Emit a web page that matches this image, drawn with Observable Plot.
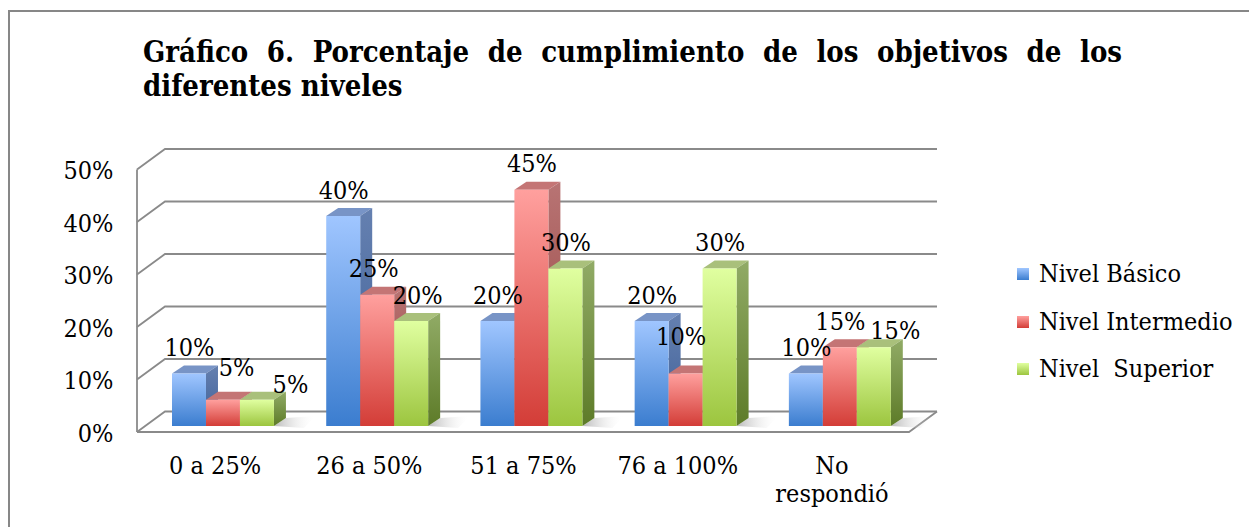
<!DOCTYPE html>
<html>
<head>
<meta charset="utf-8">
<script src="https://cdn.jsdelivr.net/npm/d3@7"></script>
<script src="https://cdn.jsdelivr.net/npm/@observablehq/plot@0.6"></script>
<style>
  html, body { margin: 0; padding: 0; background: #fff; }
  #page { position: relative; width: 1249px; height: 527px; overflow: hidden; background: #fff;
          font-family: "DejaVu Serif Condensed", "DejaVu Serif", serif; font-stretch: condensed; color: #000; }
  #frame { position: absolute; left: 8px; top: 10px; width: 1300px; height: 600px; border: 2px solid #878787; box-sizing: border-box; }
  #title { position: absolute; left: 143px; top: 35px; width: 979px; font-size: 29px; line-height: 34px; font-weight: bold;
           text-align: justify; text-align-last: left; }
  #chart { position: absolute; left: 0; top: 130px; }
  #legend { position: absolute; left: 1017px; top: 258px; font-size: 25px; }
  .item { position: relative; height: 47.5px; white-space: pre; }
  .sw { position: absolute; left: 0; top: 10px; width: 12px; height: 12px; }
  .lt { position: absolute; left: 22px; top: 0; line-height: 32px; }
</style>
</head>
<body>
<div id="page">
  <div id="frame"></div>
  <div id="title">Gráfico 6. Porcentaje de cumplimiento de los objetivos de los diferentes niveles</div>
  <div id="chart"></div>
  <div id="legend"></div>
</div>
<script>
// ---- data ----
const categories = ["0 a 25%", "26 a 50%", "51 a 75%", "76 a 100%", "No\nrespondió"];
const seriesNames = ["Nivel Básico", "Nivel Intermedio", "Nivel  Superior"];
const basico     = [0.10, 0.40, 0.20, 0.20, 0.10];
const intermedio = [0.05, 0.25, 0.45, 0.10, 0.15];
const superior   = [0.05, 0.20, 0.30, 0.30, 0.15];
const yTicks = [0, 0.1, 0.2, 0.3, 0.4, 0.5];
const yTickLabels = ["0%", "10%", "20%", "30%", "40%", "50%"];

// ---- styles ----
const palette = [
  {front: ["#a0c6ff", "#3b7dcf"], side: ["#6580b0", "#3d5f97"], top: "#7894c6"},
  {front: ["#ffa09e", "#d33d37"], side: ["#b87474", "#94403b"], top: "#c47575"},
  {front: ["#e0ffa0", "#9cc53f"], side: ["#91ab66", "#5d7b28"], top: "#a9c07b"}
];
const seriesValues = [basico, intermedio, superior];
const W = 1000, H = 397;
const ML = 145.4, MR = W - 917.4, MT = 33.5, MB = H - 296;
const PAD_IN = 0.339, PAD_OUT = 0.1725;
const step = (W - ML - MR) / (categories.length - PAD_IN + 2 * PAD_OUT);
const bw = step * (1 - PAD_IN);
const barW = bw / 3;
const FRONT = {dx: -8.4, dy: 6}, BACK = {dx: 19.6, dy: -14.5}, DEPTH = {dx: 12, dy: -8};
const FS = 25;
// label collision nudges (series index -> category index -> [dx, dy]), style only
const labelNudge = {
  1: {0: [13, -6], 1: [-4, 0], 3: [-5, -11]},
  2: {0: [33, 11], 1: [6, 0], 4: [21, 9]}
};
const fontFamily = '"DejaVu Serif Condensed", "DejaVu Serif", serif';

const data = [];
seriesValues.forEach((vals, s) => vals.forEach((v, i) => data.push({cat: categories[i], series: seriesNames[s], s, i, value: v})));
const nudge = (d, k) => ((labelNudge[d.s] || {})[d.i] || [0, 0])[k];

// gradients definition mark
function defsMark() {
  const g = d3.create("svg:g");
  const defs = g.append("defs");
  palette.forEach((p, i) => {
    const f = defs.append("linearGradient").attr("id", "front" + i).attr("x1", 0).attr("y1", 0).attr("x2", 0).attr("y2", 1);
    f.append("stop").attr("offset", "0%").attr("stop-color", p.front[0]);
    f.append("stop").attr("offset", "100%").attr("stop-color", p.front[1]);
    const sd = defs.append("linearGradient").attr("id", "side" + i).attr("x1", 0).attr("y1", 0).attr("x2", 0).attr("y2", 1);
    sd.append("stop").attr("offset", "0%").attr("stop-color", p.side[0]);
    sd.append("stop").attr("offset", "100%").attr("stop-color", p.side[1]);
  });
  const sh = defs.append("linearGradient").attr("id", "shadow").attr("x1", 0).attr("y1", 0).attr("x2", 1).attr("y2", 0);
  sh.append("stop").attr("offset", "0%").attr("stop-color", "#9a9a9a").attr("stop-opacity", 0.7);
  sh.append("stop").attr("offset", "100%").attr("stop-color", "#ffffff").attr("stop-opacity", 0);
  return g.node();
}

// walls, gridlines and floor drawn from the scales
function wallsMark(index, scales) {
  const {x, y} = scales;
  const [x0, x1] = x.range();
  const g = d3.create("svg:g").attr("fill", "none").attr("stroke", "#8a8a8a").attr("stroke-width", 1.8);
  const y0 = y(0), yTop = y(yTicks[yTicks.length - 1]);
  g.append("line").attr("x1", x0 + FRONT.dx).attr("x2", x0 + FRONT.dx).attr("y1", y0 + FRONT.dy).attr("y2", yTop + FRONT.dy);
  for (const t of yTicks) {
    g.append("polyline").attr("points", [
      [x0 + FRONT.dx, y(t) + FRONT.dy],
      [x0 + BACK.dx, y(t) + BACK.dy],
      [x1 + BACK.dx, y(t) + BACK.dy]
    ].map(p => p.join(",")).join(" "));
  }
  g.append("polyline").attr("points", [
    [x0 + FRONT.dx, y0 + FRONT.dy],
    [x1 + FRONT.dx, y0 + FRONT.dy],
    [x1 + BACK.dx, y0 + BACK.dy]
  ].map(p => p.join(",")).join(" "));
  const sg = d3.create("svg:g");
  for (const c of categories) {
    const r = x(c) + bw;
    sg.append("polygon").attr("fill", "url(#shadow)").attr("points", [
      [r, y0], [r + DEPTH.dx, y0 + DEPTH.dy], [r + DEPTH.dx + 30, y0 + DEPTH.dy - 2], [r + 30, y0 + 2]
    ].map(p => p.join(",")).join(" "));
  }
  const wrap = d3.create("svg:g");
  wrap.append(() => g.node());
  wrap.append(() => sg.node());
  return wrap.node();
}

// top and side faces of one series
function facesMark(s) {
  return (index, scales) => {
    const {x, y} = scales;
    const g = d3.create("svg:g");
    seriesValues[s].forEach((v, i) => {
      const left = x(categories[i]) + s * barW;
      const right = left + barW;
      const top = y(v), base = y(0);
      g.append("polygon").attr("fill", palette[s].top).attr("points", [
        [left, top], [right, top], [right + DEPTH.dx, top + DEPTH.dy], [left + DEPTH.dx, top + DEPTH.dy]
      ].map(p => p.join(",")).join(" "));
      g.append("polygon").attr("fill", `url(#side${s})`).attr("points", [
        [right, top], [right + DEPTH.dx, top + DEPTH.dy], [right + DEPTH.dx, base + DEPTH.dy], [right, base]
      ].map(p => p.join(",")).join(" "));
    });
    return g.node();
  };
}

const marks = [defsMark, wallsMark];
seriesNames.forEach((name, s) => {
  const rows = data.filter(d => d.s === s);
  marks.push(facesMark(s));
  marks.push(Plot.barY(rows, {
    x: "cat", y: "value", fill: `url(#front${s})`,
    insetLeft: s * barW, insetRight: bw - (s + 1) * barW
  }));
});
// data labels (one text mark per datum so each can carry its own nudge)
data.forEach(d => {
  marks.push(Plot.text([d], {
    x: "cat", y: "value", text: r => d3.format(".0%")(r.value),
    dx: -bw / 2 + barW * (d.s + 0.5) + nudge(d, 0), dy: -26 + nudge(d, 1),
    fontSize: FS, fill: "#000", lineAnchor: "middle"
  }));
});
// y tick labels on the front plane
marks.push(Plot.text(yTicks, {
  y: d => d, text: (d, i) => yTickLabels[i], frameAnchor: "left",
  textAnchor: "end", dx: 113 - ML, dy: FRONT.dy + 1, fontSize: FS, fill: "#000"
}));
// category labels
marks.push(Plot.text(categories, {
  x: d => d, y: () => 0, text: d => d, dx: FRONT.dx, dy: 28, lineAnchor: "top",
  lineHeight: 1.12, fontSize: FS, fill: "#000"
}));

const chart = Plot.plot({
  width: W, height: H,
  marginLeft: ML, marginRight: MR, marginTop: MT, marginBottom: MB,
  style: {fontFamily, fontStretch: "condensed", background: "transparent", overflow: "visible"},
  x: {domain: categories, paddingInner: PAD_IN, paddingOuter: PAD_OUT, round: false, axis: null},
  y: {domain: [0, 0.5], axis: null},
  marks
});
document.getElementById("chart").appendChild(chart);

// legend
const legend = d3.select("#legend");
seriesNames.forEach((name, s) => {
  const it = legend.append("div").attr("class", "item");
  it.append("div").attr("class", "sw").style("background", `linear-gradient(${palette[s].front[0]}, ${palette[s].front[1]})`);
  it.append("div").attr("class", "lt").text(name);
});
</script>
</body>
</html>
